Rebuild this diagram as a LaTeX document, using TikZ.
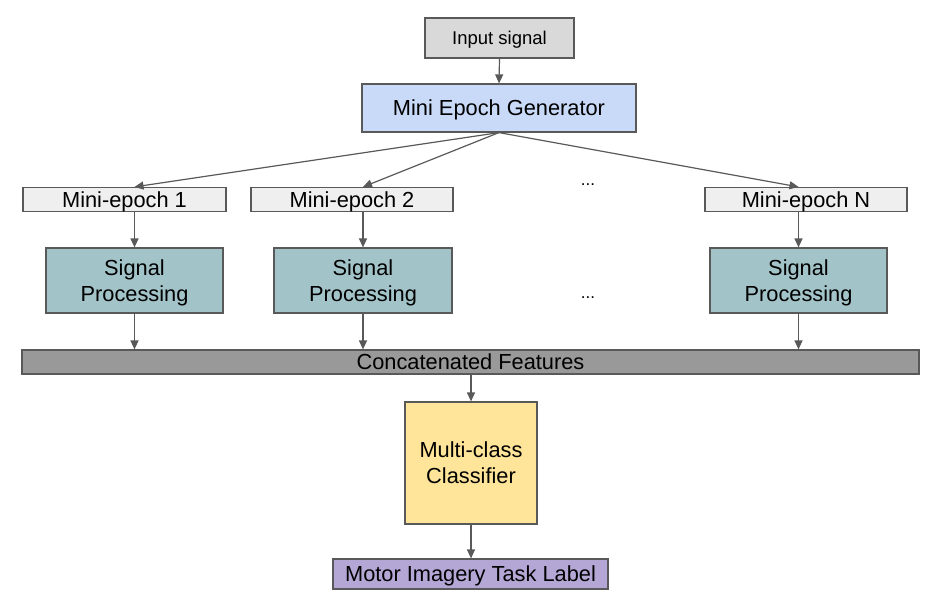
\documentclass[tikz,border=0pt]{standalone}
\usepackage{fontspec}
\setmainfont{Liberation Sans}
\usetikzlibrary{arrows.meta}
\definecolor{edgec}{HTML}{595959}
\definecolor{cin}{HTML}{D9D9D9}
\definecolor{cgen}{HTML}{C9DAF8}
\definecolor{cmini}{HTML}{EFEFEF}
\definecolor{csp}{HTML}{A2C4C9}
\definecolor{ccat}{HTML}{999999}
\definecolor{ccls}{HTML}{FFE599}
\definecolor{cmot}{HTML}{B4A7D6}
\tikzset{
  box/.style={draw=edgec, line width=1.2pt, inner sep=0pt, align=center, text=black, text depth=0pt, font=\fontsize{21.8}{26}\selectfont},
  conn/.style={draw=edgec, line width=1.2pt, -{Triangle[length=9pt,width=8pt]}}
}
\begin{document}
\begin{tikzpicture}[x=1pt,y=-1pt]
\useasboundingbox (0,0) rectangle (942,610);
\node[box, fill=cin, minimum width=149pt, minimum height=40pt, font=\fontsize{18.5}{22}\selectfont] (in) at (499.5,38) {Input signal};
\node[box, fill=cgen, minimum width=274pt, minimum height=48pt] (gen) at (499,108) {Mini Epoch Generator};
\node[box, fill=cmini, minimum width=203pt, minimum height=24pt] (m1) at (124.5,199.5) {Mini-epoch 1};
\node[box, fill=cmini, minimum width=202pt, minimum height=24pt] (m2) at (352,199.5) {Mini-epoch 2};
\node[box, fill=cmini, minimum width=202pt, minimum height=24pt] (mN) at (806,199.5) {Mini-epoch N};
\node[box, fill=csp, minimum width=177pt, minimum height=65pt] (s1) at (134.5,280.5) {Signal\\Processing};
\node[box, fill=csp, minimum width=178pt, minimum height=65pt] (s2) at (363,280.5) {Signal\\Processing};
\node[box, fill=csp, minimum width=177pt, minimum height=65pt] (sN) at (798.5,280.5) {Signal\\Processing};
\node[box, fill=ccat, minimum width=897pt, minimum height=24pt] (cat) at (470.5,362) {Concatenated Features};
\node[box, fill=ccls, minimum width=132pt, minimum height=122pt] (cls) at (471,463) {Multi-class\\Classifier};
\node[box, fill=cmot, minimum width=275pt, minimum height=30pt] (mot) at (470.5,574) {Motor Imagery Task Label};
\node[font=\fontsize{17}{20}\selectfont, inner sep=0pt] (d1) at (588,185) {...};
\node[font=\fontsize{17}{20}\selectfont, inner sep=0pt] (d2) at (588,298) {...};
\draw[conn] (in.south) -- (gen.north);
\draw[conn] (gen.south) -- (s1.north |- m1.north);
\draw[conn] (gen.south) -- (s2.north |- m2.north);
\draw[conn] (gen.south) -- (sN.north |- mN.north);
\draw[conn] (s1.north |- m1.south) -- (s1.north);
\draw[conn] (s2.north |- m2.south) -- (s2.north);
\draw[conn] (sN.north |- mN.south) -- (sN.north);
\draw[conn] (s1.south) -- (s1.south |- cat.north);
\draw[conn] (s2.south) -- (s2.south |- cat.north);
\draw[conn] (sN.south) -- (sN.south |- cat.north);
\draw[conn] (cls.north |- cat.south) -- (cls.north);
\draw[conn] (cls.south) -- (cls.south |- mot.north);
\end{tikzpicture}
\end{document}
